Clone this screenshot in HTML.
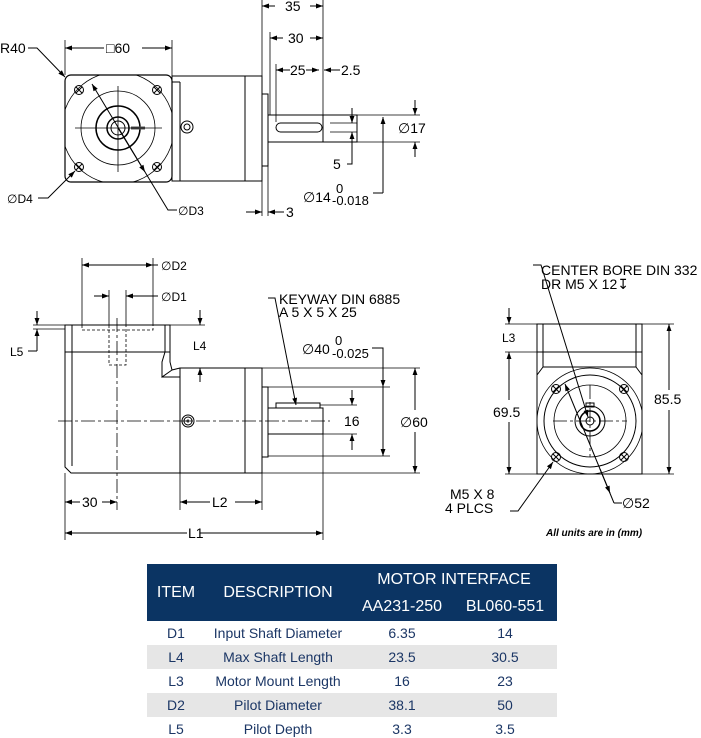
<!DOCTYPE html>
<html><head><meta charset="utf-8"><style>
html,body{margin:0;padding:0;background:#fff;}
svg{display:block}
text{font-family:"Liberation Sans",Arial,sans-serif;fill:#000}
.t{font-size:14px}
.tb td{font-family:"Liberation Sans",Arial,sans-serif}
</style></head><body>
<div style="position:relative;width:701px;height:738px;overflow:hidden">
<svg width="701" height="738" viewBox="0 0 701 738" xmlns="http://www.w3.org/2000/svg">
<defs>
<marker id="a" viewBox="0 0 10 10" refX="10" refY="5" markerWidth="9" markerHeight="7" orient="auto-start-reverse" markerUnits="userSpaceOnUse"><path d="M0,1.5 L10,5 L0,8.5 z" fill="#000"/></marker>
<clipPath id="sq"><rect x="65" y="75" width="107" height="107" rx="6"/></clipPath>
<clipPath id="sq2"><rect x="537" y="352" width="105" height="122"/></clipPath>
</defs>
<g fill="none" stroke="#000" stroke-width="1">
<!-- TOP VIEW -->
<rect x="65" y="75" width="107" height="107" rx="6" stroke-width="1.2"/>
<circle cx="118" cy="128" r="56" clip-path="url(#sq)" stroke-width="0.8"/>
<circle cx="118" cy="128" r="37" stroke-width="0.8"/>
<circle cx="118" cy="128" r="22" stroke-width="1.5"/>
<circle cx="118" cy="128" r="11" stroke-width="1.5"/>
<circle cx="118" cy="128" r="7"/>
<line x1="131" y1="128" x2="145" y2="128" stroke-width="3" stroke="#555"/>
<g stroke-width="0.8"><line x1="75" y1="128" x2="162" y2="128"/><line x1="118" y1="86" x2="118" y2="172"/></g>
<g stroke-width="1"><circle cx="79" cy="90" r="4.5"/><circle cx="157" cy="90" r="4.5"/><circle cx="79" cy="167" r="4.5"/><circle cx="157" cy="167" r="4.5"/>
<path d="M76,87l6,6M82,87l-6,6M154,87l6,6M160,87l-6,6M76,164l6,6M82,164l-6,6M154,164l6,6M160,164l-6,6"/></g>
<rect x="172" y="76" width="90" height="105"/>
<line x1="180" y1="82" x2="180" y2="181"/>
<line x1="172" y1="82" x2="180" y2="82"/>
<line x1="245" y1="76" x2="245" y2="181"/>
<circle cx="187" cy="127" r="6"/><circle cx="187" cy="127" r="3"/>
<rect x="262" y="94" width="6" height="72"/>
<rect x="268" y="115" width="89" height="27"/>
<line x1="323" y1="115" x2="323" y2="142"/>
<rect x="276" y="123" width="46" height="9" rx="4.5"/>
<g stroke-width="0.8">
<line x1="262" y1="0" x2="262" y2="216"/>
<line x1="323" y1="0" x2="323" y2="115"/>
<line x1="270" y1="32" x2="270" y2="115"/>
<line x1="276" y1="64" x2="276" y2="122"/>
<line x1="65" y1="40" x2="65" y2="75"/>
<line x1="172" y1="40" x2="172" y2="76"/>
<line x1="268" y1="166" x2="268" y2="216"/>
<line x1="357" y1="115" x2="420" y2="115"/>
<line x1="323" y1="142" x2="420" y2="142"/>
<line x1="330" y1="123" x2="357" y2="123"/>
<line x1="330" y1="132" x2="357" y2="132"/>
</g>
<line x1="275" y1="6" x2="262" y2="6" marker-end="url(#a)"/><line x1="310" y1="6" x2="323" y2="6" marker-end="url(#a)"/>
<line x1="283" y1="38" x2="270" y2="38" marker-end="url(#a)"/><line x1="310" y1="38" x2="323" y2="38" marker-end="url(#a)"/>
<line x1="290" y1="70" x2="276" y2="70" marker-end="url(#a)"/><line x1="306" y1="70" x2="319" y2="70" marker-end="url(#a)"/>
<line x1="340" y1="70" x2="324" y2="70" marker-end="url(#a)"/>
<line x1="104" y1="48" x2="65" y2="48" marker-end="url(#a)"/><line x1="142" y1="48" x2="172" y2="48" marker-end="url(#a)"/>
<line x1="415" y1="100" x2="415" y2="115" marker-end="url(#a)"/><line x1="415" y1="157" x2="415" y2="142" marker-end="url(#a)"/>
<line x1="352" y1="108" x2="352" y2="123" marker-end="url(#a)"/><line x1="352" y1="147" x2="352" y2="132" marker-end="url(#a)"/>
<polyline points="352,147 352,164 347,164"/>
<line x1="383" y1="193" x2="383" y2="117" marker-end="url(#a)"/>
<polyline points="383,193 373,193"/>
<line x1="246" y1="212" x2="262" y2="212" marker-end="url(#a)"/><line x1="284" y1="212" x2="268" y2="212" marker-end="url(#a)"/>
<polyline points="28,48 37,48 65,77" marker-end="url(#a)"/>
<polyline points="38,198 48,198 75,171" marker-end="url(#a)"/>
<line x1="145" y1="172" x2="92" y2="84" marker-end="url(#a)"/>
<line x1="118" y1="128" x2="145" y2="172" marker-end="url(#a)"/>
<polyline points="145,172 168,210 177,210"/>

<!-- SIDE VIEW -->
<rect x="65" y="325" width="105" height="27"/>
<line x1="72" y1="325" x2="72" y2="352"/><line x1="165" y1="325" x2="165" y2="352"/>
<path d="M65,352 L65,467 L71,473 L180,473"/>
<line x1="72" y1="352" x2="72" y2="466"/>
<path d="M170,352 L170,362 L172,370 L180,368 M165,352 L162,362 L162,377 L172,370"/>
<line x1="162" y1="377" x2="180" y2="377"/>
<rect x="180" y="368" width="65" height="105"/>
<rect x="245" y="368" width="17" height="105"/>
<rect x="262" y="387" width="6" height="70"/>
<rect x="268" y="408" width="55" height="26"/>
<rect x="276" y="403" width="44" height="5"/>
<circle cx="188" cy="421" r="6"/><circle cx="188" cy="421" r="4"/><circle cx="188" cy="421" r="1"/>
<g stroke-dasharray="3,2" stroke-width="0.8"><path d="M82,325 L82,330 L153,330 L153,325 M109,325 L109,365 L126,365 L126,325"/></g>
<g stroke-dasharray="14,3,3,3" stroke-width="0.8"><line x1="58" y1="421" x2="330" y2="421"/><line x1="117" y1="318" x2="117" y2="510"/></g>
<g stroke-width="0.8">
<line x1="82" y1="258" x2="82" y2="325"/><line x1="153" y1="258" x2="153" y2="325"/>
<line x1="109" y1="290" x2="109" y2="325"/><line x1="126" y1="290" x2="126" y2="325"/>
<line x1="33" y1="325" x2="65" y2="325"/><line x1="33" y1="329" x2="65" y2="329"/>
<line x1="170" y1="325" x2="205" y2="325"/>
<line x1="245" y1="368" x2="420" y2="368"/><line x1="245" y1="473" x2="420" y2="473"/>
<line x1="268" y1="387" x2="390" y2="387"/><line x1="268" y1="456" x2="390" y2="456"/>
<line x1="320" y1="405" x2="357" y2="405"/><line x1="323" y1="434" x2="357" y2="434"/>
<line x1="65" y1="473" x2="65" y2="540"/><line x1="180" y1="473" x2="180" y2="510"/><line x1="262" y1="473" x2="262" y2="510"/><line x1="323" y1="434" x2="323" y2="540"/>
</g>
<line x1="120" y1="265" x2="82" y2="265" marker-end="url(#a)"/><line x1="120" y1="265" x2="153" y2="265" marker-end="url(#a)"/>
<line x1="158" y1="265" x2="153" y2="265"/>
<line x1="94" y1="296" x2="109" y2="296" marker-end="url(#a)"/><line x1="141" y1="296" x2="126" y2="296" marker-end="url(#a)"/>
<line x1="158" y1="296" x2="141" y2="296"/>
<line x1="37" y1="311" x2="37" y2="325" marker-end="url(#a)"/><line x1="37" y1="351" x2="37" y2="329" marker-end="url(#a)"/>
<polyline points="37,351 28,351"/>
<line x1="200" y1="310" x2="200" y2="325" marker-end="url(#a)"/><line x1="200" y1="382" x2="200" y2="368" marker-end="url(#a)"/>
<polyline points="268,298 275,298 296,405" marker-end="url(#a)"/>
<polyline points="372,348 383,348 383,370"/>
<line x1="383" y1="370" x2="383" y2="387" marker-end="url(#a)"/><line x1="383" y1="370" x2="383" y2="456" marker-end="url(#a)"/>
<line x1="352" y1="390" x2="352" y2="405" marker-end="url(#a)"/><line x1="352" y1="450" x2="352" y2="434" marker-end="url(#a)"/>
<line x1="415" y1="410" x2="415" y2="368" marker-end="url(#a)"/><line x1="415" y1="432" x2="415" y2="473" marker-end="url(#a)"/>
<line x1="80" y1="502" x2="65" y2="502" marker-end="url(#a)"/><line x1="102" y1="502" x2="117" y2="502" marker-end="url(#a)"/>
<line x1="210" y1="502" x2="180" y2="502" marker-end="url(#a)"/><line x1="235" y1="502" x2="262" y2="502" marker-end="url(#a)"/>
<line x1="187" y1="533" x2="65" y2="533" marker-end="url(#a)"/><line x1="200" y1="533" x2="323" y2="533" marker-end="url(#a)"/>

<!-- RIGHT VIEW -->
<path d="M537,324 L642,324 L642,474 L537,474 Z"/>
<line x1="537" y1="352" x2="642" y2="352"/>
<line x1="543" y1="324" x2="543" y2="352"/><line x1="636" y1="324" x2="636" y2="352"/>
<path d="M543,352 L543,367 L537,375 M636,352 L636,367 L642,375 M543,367 L636,367"/>
<circle cx="590" cy="421" r="53" clip-path="url(#sq2)" stroke-width="0.8"/>
<circle cx="590" cy="421" r="46"/>
<circle cx="590" cy="421" r="36" stroke-width="0.8"/>
<circle cx="590" cy="421" r="15"/><circle cx="590" cy="421" r="10" stroke-width="1.5"/><circle cx="590" cy="421" r="4"/>
<rect x="586" y="403" width="8" height="4"/>
<g stroke-width="0.8" stroke-dasharray="14,3,3,3"><line x1="553" y1="421" x2="627" y2="421"/><line x1="590" y1="385" x2="590" y2="457"/></g>
<circle cx="556" cy="389" r="4.5"/><circle cx="624" cy="389" r="4.5"/><circle cx="556" cy="457" r="4.5"/><circle cx="624" cy="457" r="4.5"/>
<path d="M553,386l6,6M559,386l-6,6M621,386l6,6M627,386l-6,6M553,454l6,6M559,454l-6,6M621,454l6,6M627,454l-6,6"/>
<g stroke-width="0.8"><line x1="505" y1="324" x2="537" y2="324"/><line x1="505" y1="352" x2="537" y2="352"/><line x1="505" y1="474" x2="537" y2="474"/><line x1="642" y1="324" x2="674" y2="324"/><line x1="642" y1="474" x2="674" y2="474"/></g>
<line x1="509" y1="308" x2="509" y2="324" marker-end="url(#a)"/>
<line x1="509" y1="400" x2="509" y2="352" marker-end="url(#a)"/><line x1="509" y1="422" x2="509" y2="474" marker-end="url(#a)"/>
<line x1="669" y1="390" x2="669" y2="324" marker-end="url(#a)"/><line x1="669" y1="410" x2="669" y2="474" marker-end="url(#a)"/>
<polyline points="533,265 541,265 588,417" marker-end="url(#a)"/>
<polyline points="510,511 518,511 553,462" marker-end="url(#a)"/>
<line x1="614" y1="503" x2="565" y2="384" marker-end="url(#a)"/>
<line x1="600" y1="469" x2="610" y2="493" marker-end="url(#a)"/>
<polyline points="614,503 622,503"/>
</g>
<g class="t">
<text x="0" y="53">R40</text>
<text x="106" y="53">□60</text>
<text x="285" y="11">35</text>
<text x="288" y="43">30</text>
<text x="290" y="75">25</text>
<text x="341" y="75">2.5</text>
<text x="398" y="133">∅17</text>
<text x="333" y="169">5</text>
<text x="303" y="202">∅14</text>
<text x="336" y="193" font-size="13">0</text>
<text x="332" y="205" font-size="13">-0.018</text>
<text x="286" y="217">3</text>
<text x="7" y="203" font-size="12">∅D4</text>
<text x="178" y="215" font-size="12">∅D3</text>
<text x="161" y="270" font-size="12">∅D2</text>
<text x="161" y="301" font-size="12">∅D1</text>
<text x="10" y="356" font-size="12">L5</text>
<text x="193" y="350" font-size="12">L4</text>
<text x="279" y="304">KEYWAY DIN 6885</text>
<text x="279" y="317">A 5 X 5 X 25</text>
<text x="302" y="354">∅40</text>
<text x="335" y="345" font-size="13">0</text>
<text x="332" y="358" font-size="13">-0.025</text>
<text x="344" y="426">16</text>
<text x="400" y="427">∅60</text>
<text x="82" y="507">30</text>
<text x="212" y="507">L2</text>
<text x="188" y="538">L1</text>
<text x="541" y="275">CENTER BORE DIN 332</text>
<text x="541" y="289">DR M5 X 12↧</text>
<text x="502" y="342" font-size="12">L3</text>
<text x="493" y="417">69.5</text>
<text x="654" y="404">85.5</text>
<text x="450" y="499">M5 X 8</text>
<text x="445" y="513">4 PLCS</text>
<text x="622" y="508">∅52</text>
<text x="546" y="536" font-size="10" font-weight="bold" font-style="italic">All units are in (mm)</text>
</g>
</svg>
<table class="tb" style="position:absolute;left:147px;top:564px;width:410px;border-collapse:collapse;color:#1b3665;font-size:14px;text-align:center">
<tr style="background:#0b3463;color:#fff;height:29px;font-size:16px"><td rowspan="2" style="width:58px;padding:0">ITEM</td><td rowspan="2" style="width:144px">DESCRIPTION</td><td colspan="2" style="padding-top:4px">MOTOR INTERFACE</td></tr>
<tr style="background:#0b3463;color:#fff;height:28px;font-size:16px"><td style="width:100px">AA231-250</td><td>BL060-551</td></tr>
<tr style="height:24px"><td>D1</td><td>Input Shaft Diameter</td><td>6.35</td><td>14</td></tr>
<tr style="height:24px;background:#e6e6e6"><td>L4</td><td>Max Shaft Length</td><td>23.5</td><td>30.5</td></tr>
<tr style="height:24px"><td>L3</td><td>Motor Mount Length</td><td>16</td><td>23</td></tr>
<tr style="height:24px;background:#e6e6e6"><td>D2</td><td>Pilot Diameter</td><td>38.1</td><td>50</td></tr>
<tr style="height:24px"><td>L5</td><td>Pilot Depth</td><td>3.3</td><td>3.5</td></tr>
</table>
</div>
</body></html>
